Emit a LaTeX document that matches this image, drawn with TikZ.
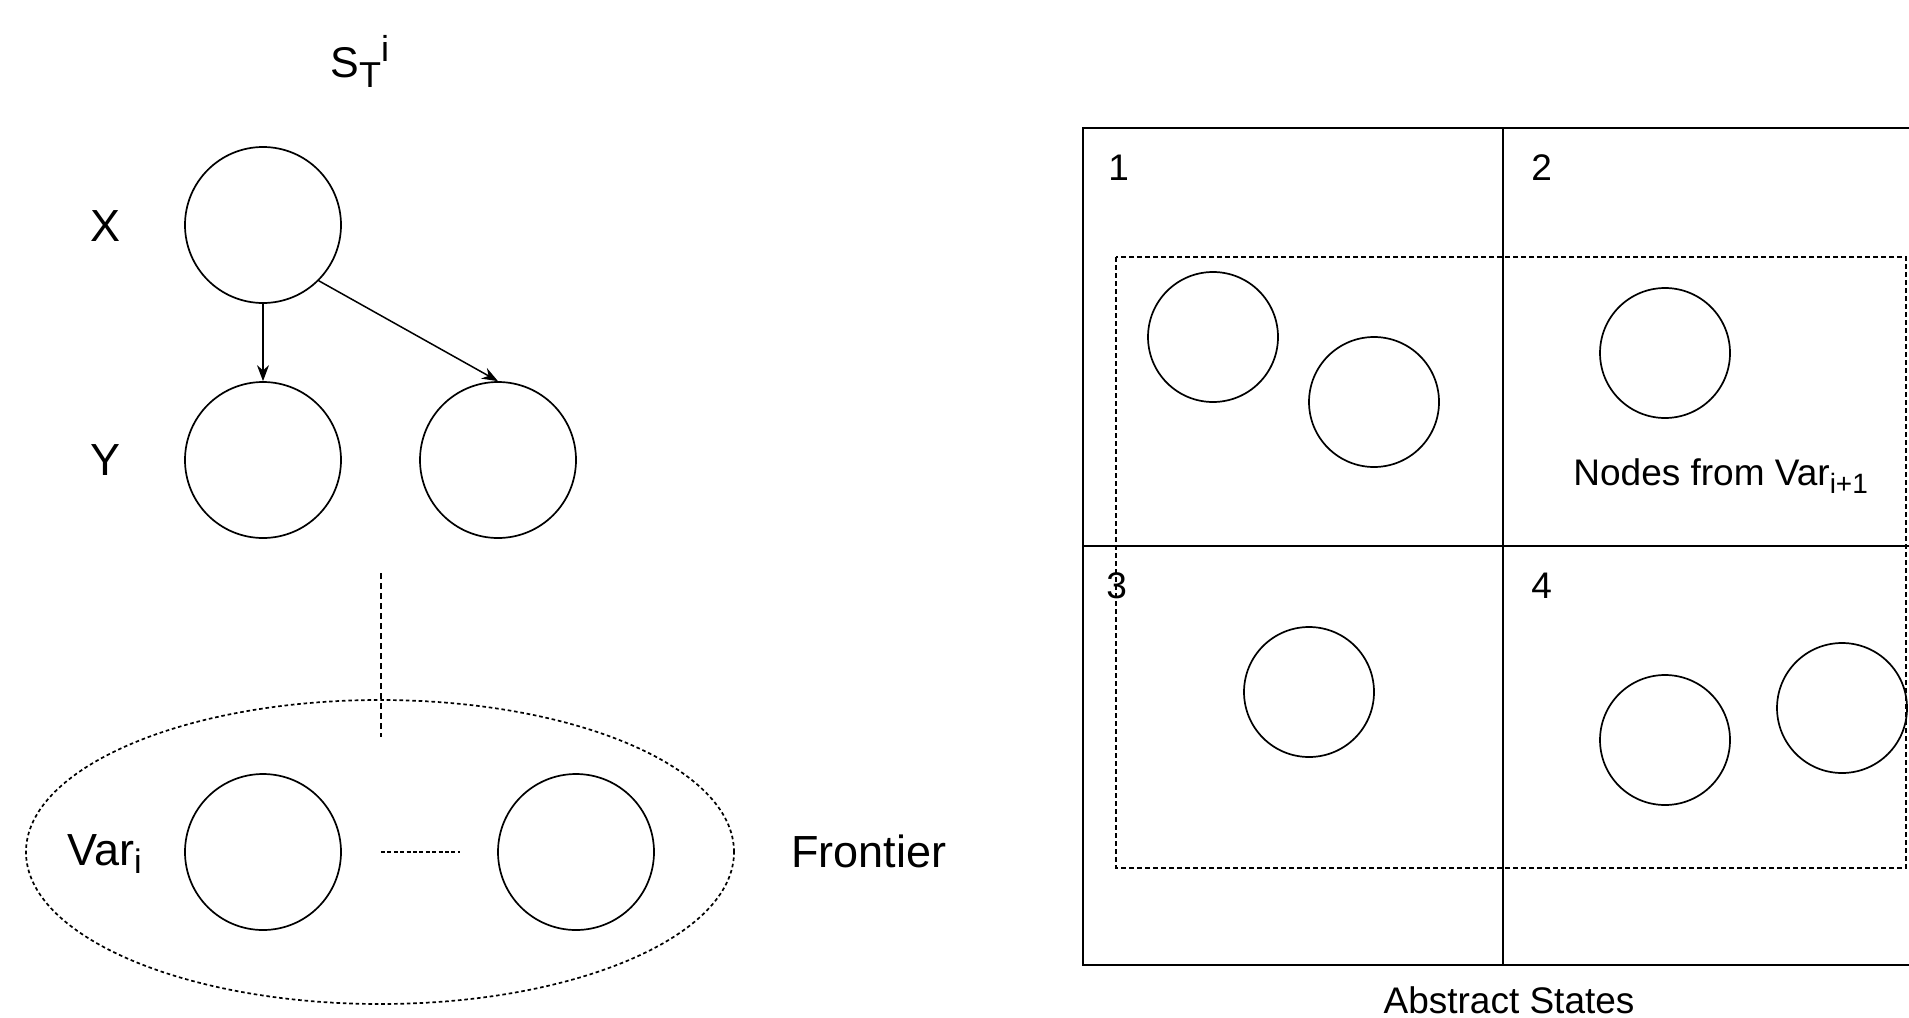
\documentclass[tikz,border=0pt]{standalone}
\usepackage{fontspec}
\setmainfont{Liberation Sans}
\usetikzlibrary{arrows.meta,shapes.geometric}
\newcommand{\lsub}[1]{\raisebox{-4pt}{\fontsize{17}{20}\selectfont #1}}
\newcommand{\rsub}[1]{\raisebox{-4pt}{\fontsize{14}{17}\selectfont #1}}
\begin{document}
\begin{tikzpicture}[x=0.5pt,y=-0.5pt,
  big/.style={circle,draw,line width=0.85pt,minimum size=78pt,inner sep=0pt},
  small/.style={circle,draw,line width=0.85pt,minimum size=65pt,inner sep=0pt},
  lbl/.style={font=\fontsize{22.5}{27}\selectfont,inner sep=0pt},
  rlbl/.style={font=\fontsize{18.5}{22}\selectfont,inner sep=0pt},
  arr/.style={-{Stealth[length=8pt,width=6pt]},line width=0.75pt},
  gridline/.style={line width=0.85pt},
  dashbox/.style={line width=0.65pt,dash pattern=on 2.5pt off 1.5pt},
]
\useasboundingbox (0,0) rectangle (1909,1017);
% left graph
\node[inner sep=0pt,anchor=base west,font=\fontsize{21.5}{26}\selectfont] (st) at (330,77)
  {S\raisebox{-5pt}{\fontsize{18}{21}\selectfont T}\raisebox{8pt}{\fontsize{18}{21}\selectfont i}};
\node[lbl,anchor=base] (xl) at (106,241) {X};
\node[lbl,anchor=base] (yl) at (106,475) {Y};
\node[big] (x) at (263,225) {};
\node[big] (y1) at (263,460) {};
\node[big] (y2) at (498,460) {};
\draw[arr] (x) -- (y1);
\draw[arr] (x.south east) -- (y2.north);
% frontier
\node[ellipse,draw,line width=0.85pt,dash pattern=on 1.8pt off 1.4pt,minimum width=354pt,minimum height=152pt,inner sep=0pt] (fr) at (380,852) {};
\coordinate (dt) at (381,573);
\coordinate (db) at (381,737);
\draw[line width=0.65pt,dash pattern=on 3pt off 2pt] (dt) -- (db);
\node[big] (v1) at (263,852) {};
\node[big] (v2) at (576,852) {};
\coordinate (da) at (381,852);
\coordinate (dc) at (460,852);
\draw[line width=0.7pt,dash pattern=on 2pt off 1.2pt] (da) -- (dc);
\node[lbl,anchor=base west] (var) at (67,865) {Var\lsub{i}};
\node[lbl,anchor=base west] (front) at (791,867) {Frontier};
% right grid
\begin{scope}
\clip (0,0) rectangle (1909,1017);
\draw[gridline] (1083,128) rectangle (1923,965);
\draw[gridline] (1503,128) -- (1503,965);
\draw[gridline] (1083,546) -- (1923,546);
\end{scope}
\draw[dashbox] (1116,257) rectangle (1906,868);
\node[rlbl,anchor=base west] (n1) at (1108,180) {1};
\node[rlbl,anchor=base west] (n2) at (1531,180) {2};
\node[rlbl,anchor=base west] (n3) at (1106,598) {3};
\node[rlbl,anchor=base west] (n4) at (1531,598) {4};
\node[small] (a1) at (1213,337) {};
\node[small] (a2) at (1374,402) {};
\node[small] (b1) at (1665,353) {};
\node[small] (c1) at (1309,692) {};
\node[small] (d1) at (1665,740) {};
\node[small] (d2) at (1842,708) {};
\node[rlbl,anchor=base west] (nodes) at (1573,485) {Nodes from Var\rsub{i+1}};
\node[rlbl,anchor=base] (abs) at (1509,1013) {Abstract States};
\end{tikzpicture}
\end{document}
